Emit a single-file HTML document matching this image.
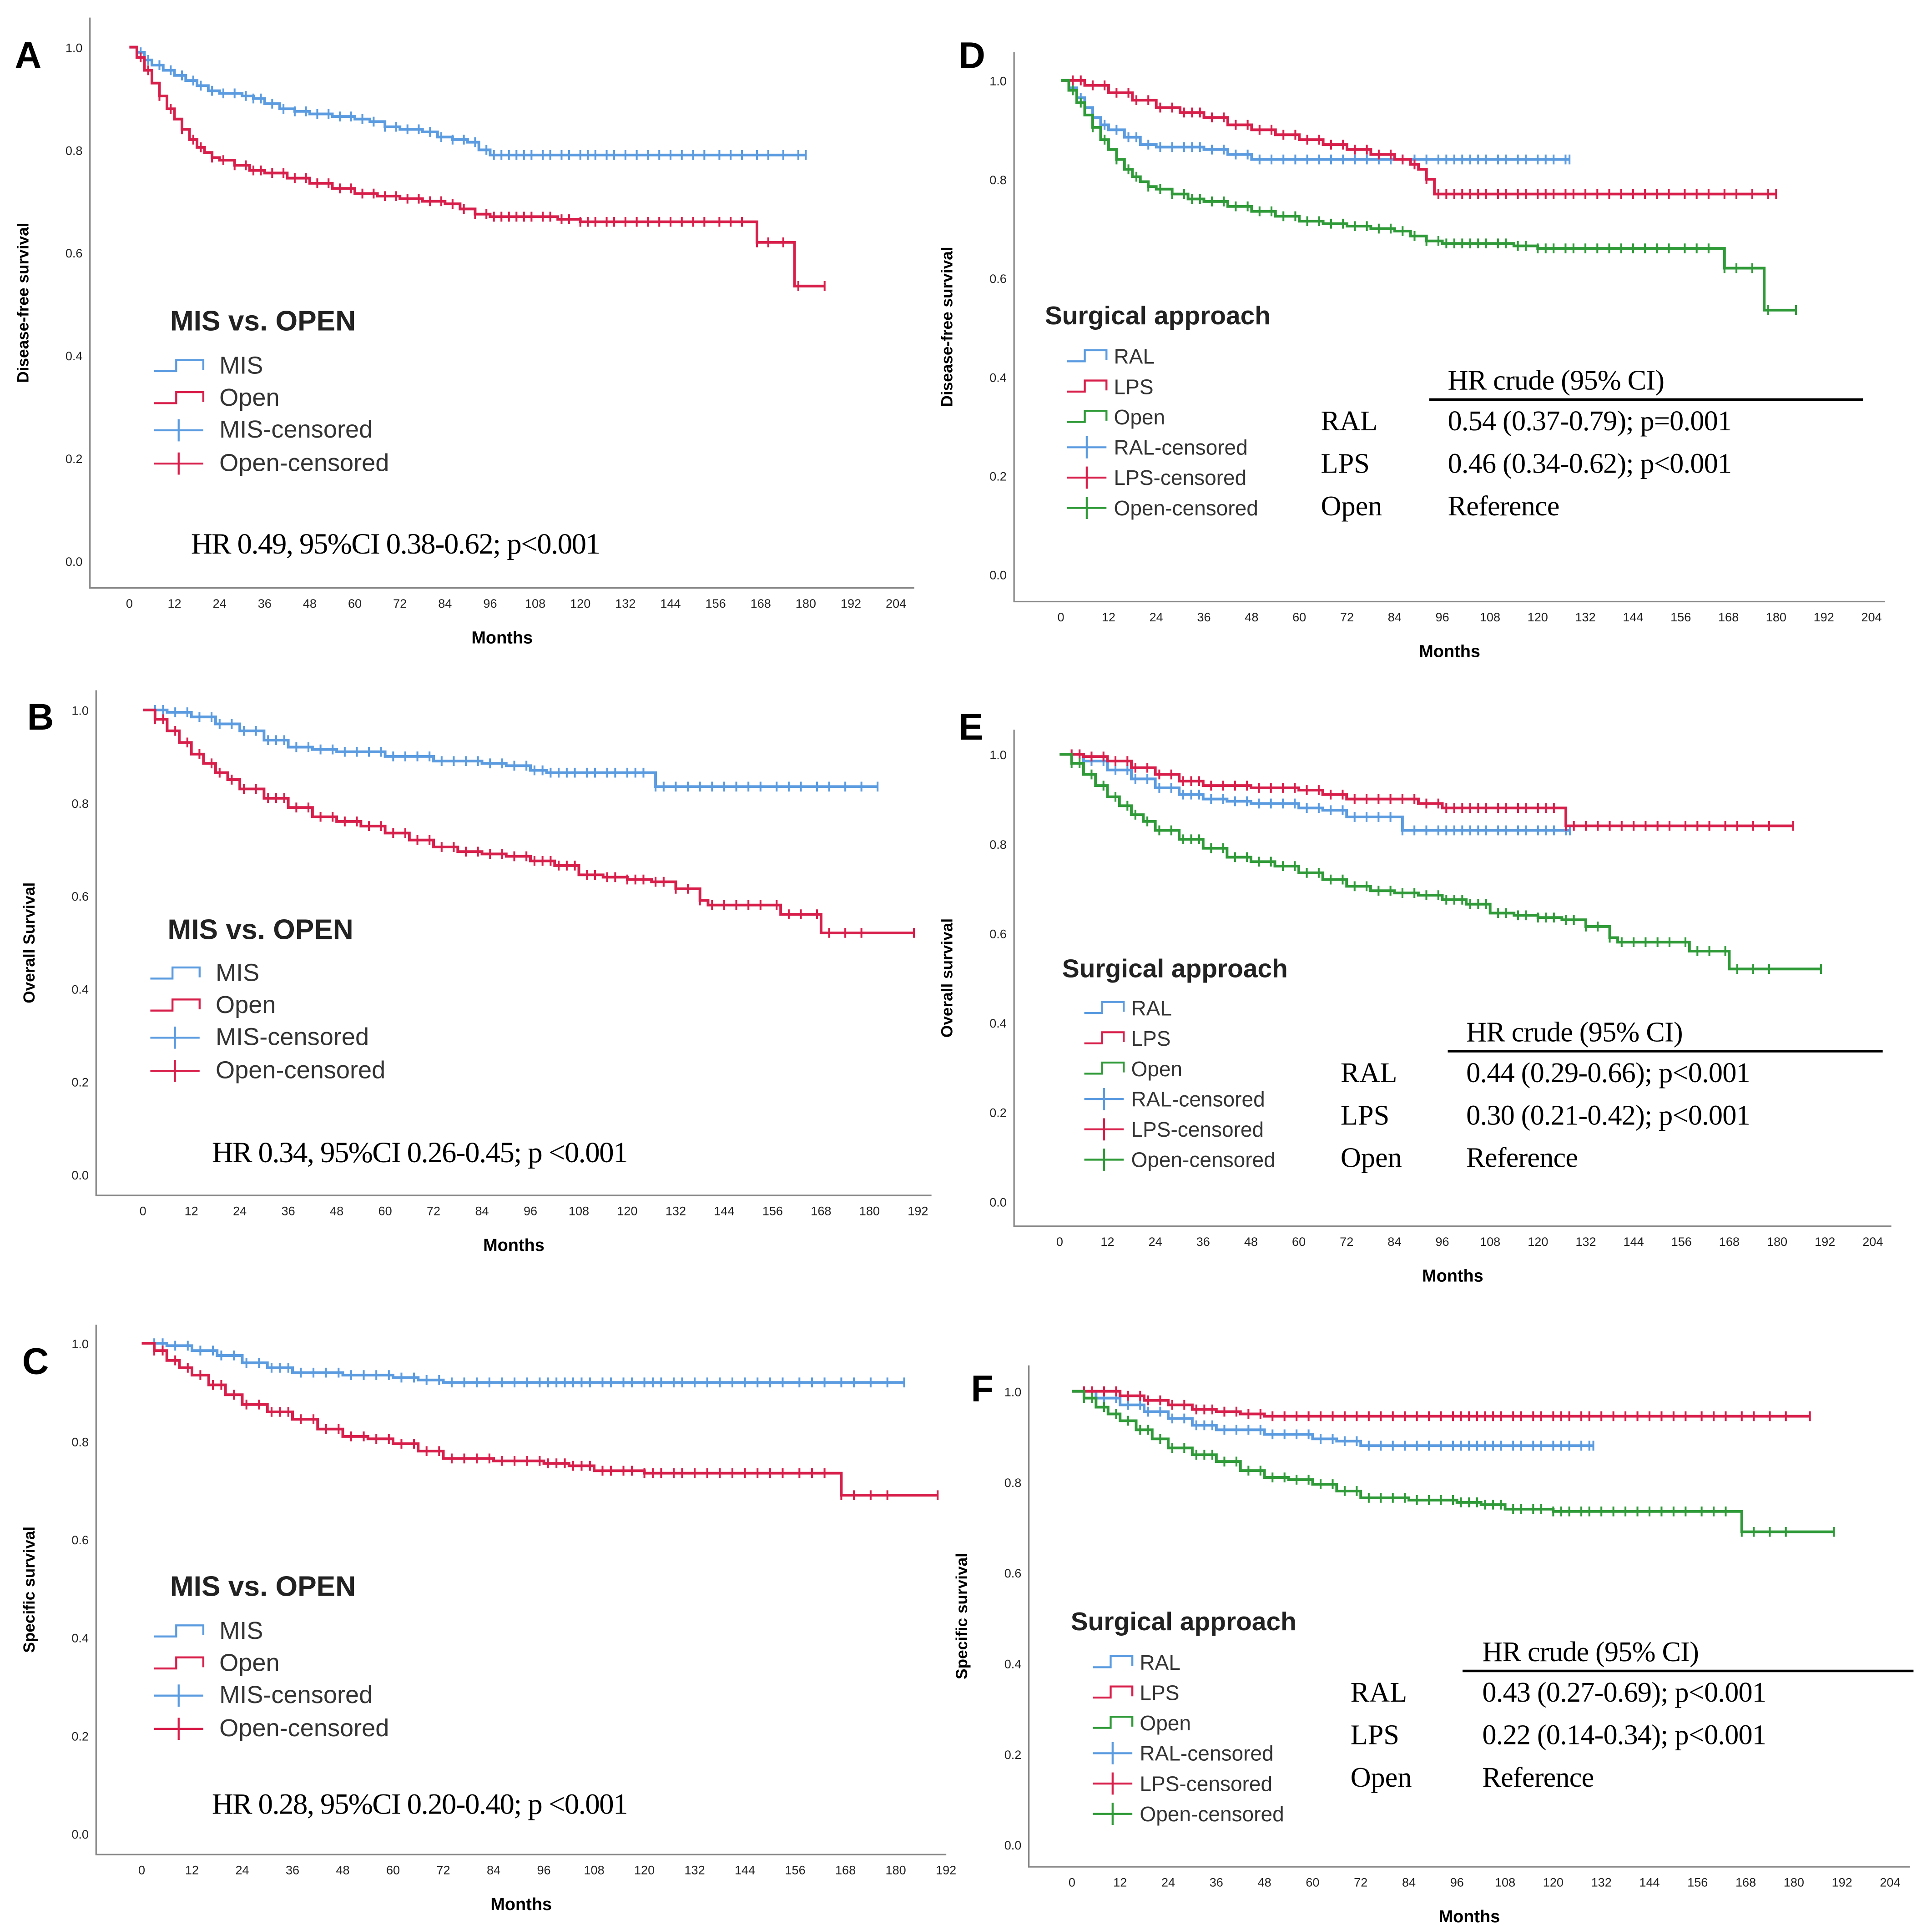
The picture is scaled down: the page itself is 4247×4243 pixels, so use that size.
<!DOCTYPE html>
<html><head><meta charset="utf-8"><style>
html,body{margin:0;padding:0;background:#fff}
svg{display:block}
text{font-family:"Liberation Sans",sans-serif}
.serif{font-family:"Liberation Serif",serif}
</style></head><body>
<svg id="fig" width="4247" height="4243" viewBox="0 0 1568 1566" xmlns="http://www.w3.org/2000/svg"></svg>
<script>
// ---- data ----
const xTicksA = [0,12,24,36,48,60,72,84,96,108,120,132,144,156,168,180,192,204];
const xTicksB = [0,12,24,36,48,60,72,84,96,108,120,132,144,156,168,180,192];
const yTicks = [0,0.2,0.4,0.6,0.8,1.0];

const dfsMIS = [[0,1],[2,.99],[4,.975],[6,.965],[9,.955],[12,.945],[15,.935],[18,.925],[21,.915],[24,.91],[30,.905],[33,.9],[36,.89],[40,.88],[44,.875],[48,.87],[54,.865],[60,.86],[64,.855],[68,.845],[72,.84],[78,.835],[82,.825],[86,.82],[90,.815],[93,.8],[96,.79],[180,.79]];
const dfsOpen = [[0,1],[2,.98],[4,.955],[6,.93],[8,.905],[10,.88],[12,.86],[14,.84],[16,.82],[18,.805],[20,.795],[22,.785],[24,.78],[28,.77],[32,.76],[36,.755],[42,.745],[48,.735],[54,.725],[60,.715],[66,.71],[72,.705],[78,.7],[84,.695],[88,.685],[92,.675],[96,.67],[114,.665],[120,.66],[165,.66],[167,.62],[176,.62],[177,.535],[185,.535]];
const osMIS = [[0,1],[6,.995],[12,.985],[18,.97],[24,.955],[30,.935],[36,.92],[42,.915],[48,.91],[60,.9],[72,.89],[84,.885],[90,.88],[96,.87],[100,.865],[126,.865],[127,.835],[182,.835]];
const osOpen = [[0,1],[3,.98],[6,.955],[9,.93],[12,.905],[15,.885],[18,.865],[21,.85],[24,.83],[30,.81],[36,.79],[42,.77],[48,.76],[54,.75],[60,.735],[66,.72],[72,.705],[78,.695],[84,.69],[90,.685],[96,.675],[102,.665],[108,.645],[114,.64],[120,.635],[126,.63],[132,.615],[138,.59],[140,.58],[156,.58],[158,.56],[166,.56],[168,.52],[191,.52]];
const ssMIS = [[0,1],[6,.995],[12,.985],[18,.975],[24,.96],[30,.95],[36,.94],[48,.935],[60,.93],[66,.925],[72,.92],[182,.92]];
const ssOpen = [[0,1],[3,.985],[6,.965],[9,.95],[12,.935],[16,.915],[20,.895],[24,.875],[30,.86],[36,.845],[42,.825],[48,.81],[54,.805],[60,.795],[66,.78],[72,.765],[84,.76],[96,.755],[102,.75],[108,.74],[120,.735],[166,.735],[167,.69],[190,.69]];
const dfsRAL = [[0,1],[2,.985],[4,.965],[6,.945],[8,.925],[10,.91],[12,.9],[16,.885],[20,.87],[24,.865],[36,.86],[42,.85],[48,.84],[128,.84]];
const dfsLPS = [[0,1],[6,.99],[12,.975],[18,.96],[24,.945],[30,.935],[36,.925],[42,.91],[48,.9],[54,.89],[60,.88],[66,.87],[72,.86],[78,.85],[84,.84],[88,.83],[90,.82],[92,.8],[94,.77],[180,.77]];
const osRAL = [[0,1],[6,.985],[12,.965],[18,.945],[24,.925],[30,.91],[36,.9],[42,.895],[48,.89],[60,.88],[66,.875],[72,.86],[85,.86],[86,.83],[128,.83]];
const osLPS = [[0,1],[6,.995],[12,.985],[18,.97],[24,.955],[30,.94],[36,.93],[48,.925],[60,.92],[66,.91],[72,.9],[84,.9],[90,.89],[96,.88],[126,.88],[127,.84],[184,.84]];
const ssRAL = [[0,1],[6,.985],[12,.97],[18,.955],[24,.94],[30,.925],[36,.915],[48,.905],[60,.895],[66,.89],[72,.88],[130,.88]];
const ssLPS = [[0,1],[12,.99],[18,.98],[24,.97],[30,.96],[36,.955],[42,.95],[48,.945],[184,.945]];
const cens1 = [3,5,8,11,14,17,19,22,25,28,31,33,35,38,41,44,47,50,53,56,59,62,65,68,71,74,77,80,83,86,89,92,95,97,99,101,103,105,107,110,112,115,117,120,122,124,127,129,132,135,138,141,144,147,150,153,157,160,163,167,170,174,178];

const BLUE="#5b9be0", RED="#d81e4a", GREEN="#2f9a38";
const svg=document.getElementById('fig');
const NS="http://www.w3.org/2000/svg";
function el(tag,attrs,parent,txt){const e=document.createElementNS(NS,tag);for(const k in attrs)e.setAttribute(k,attrs[k]);if(txt!==undefined)e.textContent=txt;(parent||svg).appendChild(e);return e;}
function valAt(s,m){let v=s[0][1];for(const p of s){if(p[0]<=m)v=p[1];}return v;}

function panel(P){
  const g=el('g',{});
  
  
  const X=m=>P.x0+m*P.kx, Y=v=>P.y0+(P.y1-P.y0)*(1-v);
  const ax=el('path',{d:`M${P.bl} ${P.bt}V${P.bb}H${P.br}`,stroke:'#888',fill:'none','stroke-width':1.2},g);
  
  P.xt.forEach(t=>{const tx=el('text',{x:X(t),y:P.bb+16,'font-size':10,'text-anchor':'middle',fill:'#222'},g,String(t));
    });
  yTicks.forEach(t=>{const tx=el('text',{x:P.bl-6,y:Y(t)+4,'font-size':10,'text-anchor':'end',fill:'#222'},g,t.toFixed(1));
    });
  const xt=el('text',{x:(P.bl+P.br)/2,y:P.bb+45,'font-size':14,'font-weight':'bold','text-anchor':'middle'},g,'Months');
  
  const ytx=P.bl-50, yty=(P.bt+P.bb)/2;
  const yt=el('text',{x:ytx,y:yty,'font-size':13,'font-weight':'bold','text-anchor':'middle',transform:`rotate(-90 ${ytx} ${yty})`},g,P.ytitle);
  
  const lt=el('text',{x:P.lx,y:P.ly,'font-size':30,'font-weight':'bold'},g,P.id);
  
  P.series.forEach(S=>{
    let d=`M${X(S.d[0][0])} ${Y(S.d[0][1])}`;
    for(let i=1;i<S.d.length;i++){d+=`H${X(S.d[i][0])}V${Y(S.d[i][1])}`;}
    const p=el('path',{d,stroke:S.c,fill:'none','stroke-width':2.2},g);
    
    const last=S.d[S.d.length-1][0];
    let cd='';
    cens1.filter(m=>m<last).forEach(m=>{cd+=`M${X(m)} ${Y(valAt(S.d,m))-4}v8`;});
    cd+=`M${X(last)} ${Y(valAt(S.d,last))-4}v8`;
    const c=el('path',{d:cd,stroke:S.c,'stroke-width':1.5},g);
    
  });
  const L=P.leg;
  const tt=el('text',{x:L.tx,y:L.ty,'font-size':L.ts,'font-weight':'bold',fill:'#222'},g,L.title);
  
  L.items.forEach((it,i)=>{
    const y=L.iy[i];
    const w=L.iw;
    const ic=it[2]?el('path',{d:`M${L.ix} ${y}h${w}M${L.ix+w/2} ${y-9}v18`,stroke:it[1],'stroke-width':1.6,fill:'none'},g)
      :el('path',{d:`M${L.ix} ${y+4}h${w*0.45}v-9h${w*0.55}v8`,stroke:it[1],'stroke-width':1.6,fill:'none'},g);
    
    const t=el('text',{x:L.lx,y:y+6,'font-size':L.fs,fill:'#333'},g,it[0]);
    
  });
  if(P.hr){const h=el('text',{x:P.hr[0],y:P.hr[1],'font-size':24,class:'serif','letter-spacing':'-0.6'},g,P.hr[2]);
    }
  if(P.tab){const T=P.tab;
    const h=el('text',{x:T.vx,y:T.hy,'font-size':23,class:'serif','letter-spacing':'-0.3'},g,'HR crude (95% CI)');
    
    const ln=el('line',{x1:T.l1,x2:T.l2,y1:T.hy+8,y2:T.hy+8,stroke:'#000','stroke-width':2},g);
    
    T.rows.forEach((r,i)=>{const y=T.hy+33+i*34.5;
      const a=el('text',{x:T.lx,y,'font-size':23,class:'serif'},g,r[0]);
      
      const b=el('text',{x:T.vx,y,'font-size':23,class:'serif','letter-spacing':'-0.3'},g,r[1]);
      });
  }
}
const legMO=(tx,ty,ix,lx,y0)=>({title:'MIS vs. OPEN',tx,ty,ts:23,ix,lx,iw:40,fs:20,iy:[y0,y0+26,y0+52,y0+79],
  items:[['MIS',BLUE,0],['Open',RED,0],['MIS-censored',BLUE,1],['Open-censored',RED,1]]});
const legSA=(tx,ty,ix,lx,y0)=>({title:'Surgical approach',tx,ty,ts:21,ix,lx,iw:32,fs:17,iy:[0,1,2,3,4,5].map(i=>y0+i*24.6),
  items:[['RAL',BLUE,0],['LPS',RED,0],['Open',GREEN,0],['RAL-censored',BLUE,1],['LPS-censored',RED,1],['Open-censored',GREEN,1]]});

panel({id:'A',x0:105,kx:3.05,y0:38,y1:455,bl:73,br:742,bt:14,bb:477,xt:xTicksA,ytitle:'Disease-free survival',lx:12,ly:55,
  series:[{n:'mis',c:BLUE,d:dfsMIS},{n:'open',c:RED,d:dfsOpen}],leg:legMO(138,268,125,178,297),
  hr:[155,449,'HR 0.49, 95%CI 0.38-0.62; p<0.001']});
panel({id:'B',x0:116,kx:3.276,y0:576,y1:953,bl:78,br:756,bt:560,bb:970,xt:xTicksB,ytitle:'Overall Survival',lx:22,ly:592,
  series:[{n:'mis',c:BLUE,d:osMIS},{n:'open',c:RED,d:osOpen}],leg:legMO(136,762,122,175,790),
  hr:[172,943,'HR 0.34, 95%CI 0.26-0.45; p <0.001']});
panel({id:'C',x0:115,kx:3.4,y0:1090,y1:1488,bl:78,br:768,bt:1075,bb:1505,xt:xTicksB,ytitle:'Specific survival',lx:18,ly:1115,
  series:[{n:'mis',c:BLUE,d:ssMIS},{n:'open',c:RED,d:ssOpen}],leg:legMO(138,1295,125,178,1324),
  hr:[172,1472,'HR 0.28, 95%CI 0.20-0.40; p <0.001']});
panel({id:'D',x0:861,kx:3.225,y0:65,y1:466,bl:823,br:1530,bt:42,bb:488,xt:xTicksA,ytitle:'Disease-free survival',lx:778,ly:55,
  series:[{n:'ral',c:BLUE,d:dfsRAL},{n:'lps',c:RED,d:dfsLPS},{n:'open',c:GREEN,d:dfsOpen}],leg:legSA(848,263,866,904,289),
  tab:{hy:316,l1:1160,l2:1512,lx:1072,vx:1175,rows:[['RAL','0.54 (0.37-0.79); p=0.001'],['LPS','0.46 (0.34-0.62); p<0.001'],['Open','Reference']]}});
panel({id:'E',x0:860,kx:3.235,y0:612,y1:975,bl:823,br:1535,bt:592,bb:995,xt:xTicksA,ytitle:'Overall survival',lx:778,ly:600,
  series:[{n:'ral',c:BLUE,d:osRAL},{n:'lps',c:RED,d:osLPS},{n:'open',c:GREEN,d:osOpen}],leg:legSA(862,793,880,918,818),
  tab:{hy:845,l1:1175,l2:1528,lx:1088,vx:1190,rows:[['RAL','0.44 (0.29-0.66); p<0.001'],['LPS','0.30 (0.21-0.42); p<0.001'],['Open','Reference']]}});
panel({id:'F',x0:870,kx:3.255,y0:1129,y1:1497,bl:835,br:1550,bt:1108,bb:1515,xt:xTicksA,ytitle:'Specific survival',lx:788,ly:1137,
  series:[{n:'ral',c:BLUE,d:ssRAL},{n:'lps',c:RED,d:ssLPS},{n:'open',c:GREEN,d:ssOpen}],leg:legSA(869,1323,887,925,1349),
  tab:{hy:1348,l1:1187,l2:1553,lx:1096,vx:1203,rows:[['RAL','0.43 (0.27-0.69); p<0.001'],['LPS','0.22 (0.14-0.34); p<0.001'],['Open','Reference']]}});
</script>
</body></html>
